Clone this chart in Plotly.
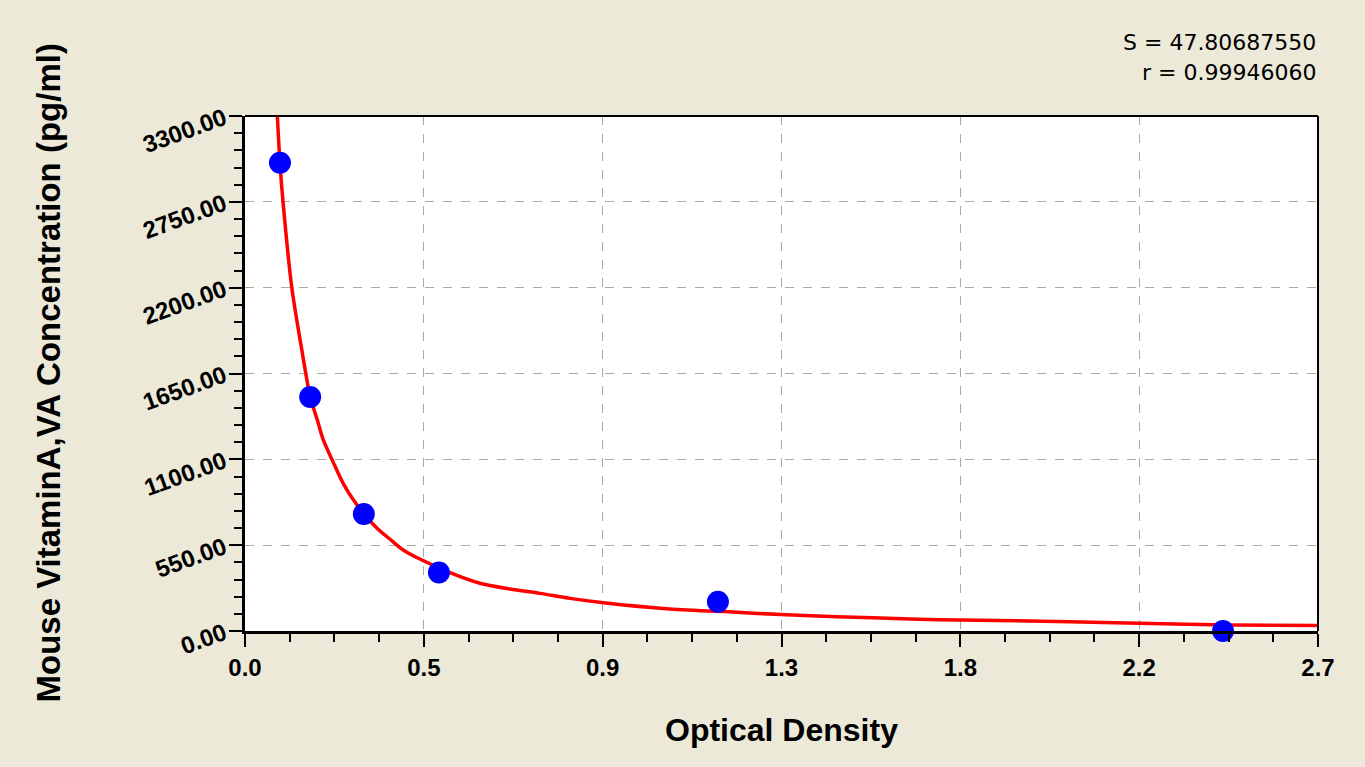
import plotly.graph_objects as go

# standard points
od = [0.088, 0.164, 0.299, 0.488, 1.190, 2.461]
conc = [3000, 1500, 750, 375, 187.5, 0]

# fitted curve
fit_x = [0.080, 0.088, 0.096, 0.118, 0.143, 0.164, 0.182, 0.197, 0.221, 0.247,
         0.273, 0.302, 0.335, 0.365, 0.398, 0.436, 0.516, 0.591, 0.667, 0.742,
         0.818, 0.902, 1.069, 1.237, 1.349, 1.489, 1.673, 1.799, 2.076, 2.252,
         2.478, 2.700]
fit_y = [3371, 2997, 2741, 2196, 1801, 1501, 1352, 1224, 1087, 946,
         839, 743, 652, 588, 519, 466, 374, 306, 269, 241,
         209, 181, 141, 120, 105, 92, 77, 70, 60, 49,
         38, 36]

x_ticks = [0, 0.45, 0.9, 1.35, 1.8, 2.25, 2.7]
x_labels = ["0.0", "0.5", "0.9", "1.3", "1.8", "2.2", "2.7"]
y_ticks = [0, 550, 1100, 1650, 2200, 2750, 3300]
y_labels = ["0.00", "550.00", "1100.00", "1650.00", "2200.00", "2750.00", "3300.00"]

S_text = "S = 47.80687550"
r_text = "r = 0.99946060"

bg = "#ECE9D8"
font = "Liberation Sans, Arial, sans-serif"

fig = go.Figure()
fig.add_trace(go.Scatter(x=fit_x, y=fit_y, mode="lines",
                         line=dict(color="#FF0000", width=3.5, shape="spline", smoothing=0.8),
                         showlegend=False, hoverinfo="skip"))
fig.add_trace(go.Scatter(x=od, y=conc, mode="markers", marker=dict(color="#0000FF", size=22),
                         cliponaxis=False, showlegend=False))

axis_common = dict(showline=True, linecolor="black", linewidth=3, ticks="outside", ticklen=13, tickwidth=2,
                   tickcolor="black", showgrid=True, gridcolor="#AAAAA0", griddash="dash", gridwidth=1,
                   zeroline=False)

fig.update_xaxes(range=[0, 2.7], tickmode="array", tickvals=x_ticks, ticktext=x_labels,
                 tickfont=dict(family=font, size=24, color="black", weight="bold"),
                 minor=dict(dtick=0.1125, tick0=0, ticks="outside", ticklen=8, tickwidth=2, tickcolor="black", showgrid=False),
                 **axis_common)
fig.update_yaxes(range=[0, 3300], tickmode="array", tickvals=y_ticks, ticktext=y_labels, tickangle=-20,
                 tickfont=dict(family=font, size=24, color="black", weight="bold"),
                 minor=dict(dtick=110, tick0=0, ticks="outside", ticklen=8, tickwidth=2, tickcolor="black", showgrid=False),
                 **axis_common)

# thin frame on top and right
fig.add_shape(type="line", xref="paper", yref="paper", x0=0, x1=1, y0=1, y1=1, line=dict(color="black", width=2))
fig.add_shape(type="line", xref="paper", yref="paper", x0=1, x1=1, y0=0, y1=1, line=dict(color="black", width=2))

fig.add_annotation(text="Mouse VitaminA,VA Concentration (pg/ml)", xref="paper", yref="paper", x=0, y=0.5,
                   xshift=-197, textangle=-90, showarrow=False, xanchor="center", yanchor="middle",
                   font=dict(family=font, size=33, color="black", weight="bold"))
fig.add_annotation(text="Optical Density", xref="paper", yref="paper", x=0.5, y=0, yshift=-99,
                   showarrow=False, xanchor="center", yanchor="middle",
                   font=dict(family=font, size=32, color="black", weight="bold"))
fig.add_annotation(text=S_text, xref="paper", yref="paper", x=1, y=1, yshift=74, showarrow=False,
                   xanchor="right", yanchor="middle", font=dict(family="DejaVu Sans", size=22, color="black"))
fig.add_annotation(text=r_text, xref="paper", yref="paper", x=1, y=1, yshift=44, showarrow=False,
                   xanchor="right", yanchor="middle", font=dict(family="DejaVu Sans", size=22, color="black"))

fig.update_layout(width=1365, height=767, paper_bgcolor=bg, plot_bgcolor="white",
                  margin=dict(l=245, r=47, t=116, b=136, autoexpand=False))

fig.write_html("out.html", config={"displayModeBar": False},
               post_script="document.body.style.margin='0';")
